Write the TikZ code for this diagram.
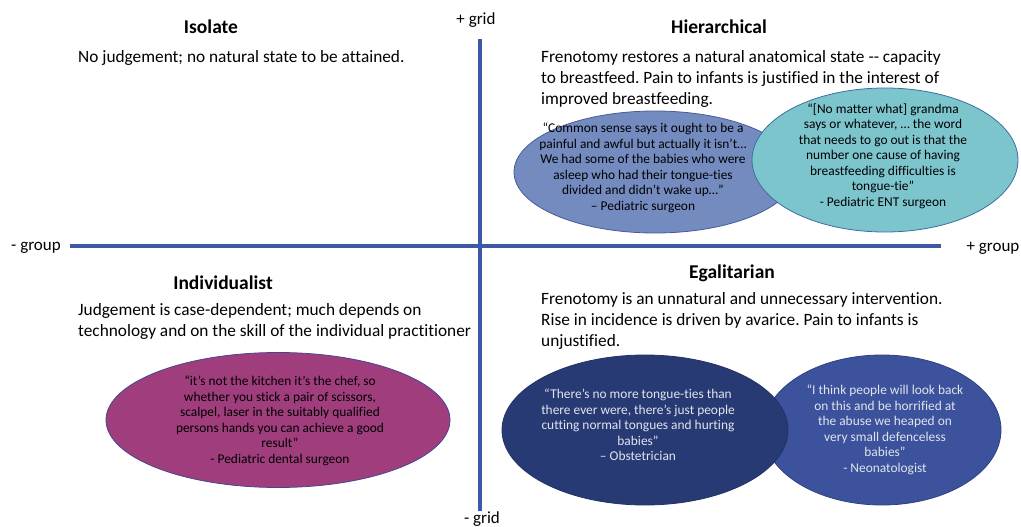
\documentclass[tikz,border=0pt]{standalone}
\usepackage{fontspec}
\setmainfont{Carlito}[Ligatures={TeX,NoCommon}]
\usetikzlibrary{shapes.geometric}
\definecolor{axisblue}{RGB}{61,88,164}
\definecolor{lav}{RGB}{116,139,192}
\definecolor{lavb}{RGB}{70,92,150}
\definecolor{teal}{RGB}{124,197,205}
\definecolor{tealb}{RGB}{60,110,160}
\definecolor{mag}{RGB}{160,62,125}
\definecolor{magb}{RGB}{70,70,140}
\definecolor{navy}{RGB}{40,58,116}
\definecolor{navyb}{RGB}{35,50,100}
\definecolor{neo}{RGB}{60,82,156}
\definecolor{neob}{RGB}{45,65,130}
\definecolor{paletext}{RGB}{225,228,236}
\frenchspacing
\begin{document}
\begin{tikzpicture}[x=1pt,y=-1pt,
  axisline/.style={draw=axisblue,line width=4pt},
  axislabel/.style={inner sep=0pt,font=\fontsize{17}{19}\selectfont},
  qtitle/.style={inner sep=0pt,anchor=base,font=\bfseries\fontsize{19.5}{22}\selectfont},
  qbody/.style={inner sep=0pt,anchor=north west,align=left,font=\fontsize{17.3}{21}\selectfont},
  bubble/.style={ellipse,inner sep=0pt,line width=0.8pt},
  quote/.style={inner sep=0pt,align=center,font=\fontsize{13.4}{15.5}\selectfont},
]
\useasboundingbox (0,0) rectangle (1021,527);
% axes
\coordinate (vt) at (480,39);
\coordinate (vb) at (480,511);
\coordinate (hl) at (70,246);
\coordinate (hr) at (941,246);
\draw[axisline] (vt) -- (vb);
\draw[axisline] (hl) -- (hr);
\node[axislabel] (pgrid) at (476,20) {+ grid};
\node[axislabel] (mgrid) at (482,519) {- grid};
\node[axislabel] (mgroup) at (36,248) {- group};
\node[axislabel] (pgroup) at (993,248) {+ group};
% titles
\node[qtitle] (tiso) at (211,34) {Isolate};
\node[qtitle] (thie) at (719,34) {Hierarchical};
\node[qtitle] (tind) at (223,289) {Individualist};
\node[qtitle] (tega) at (732,278) {Egalitarian};
% bodies
\node[qbody] (biso) at (78,50) {No judgement; no natural state to be attained.};
\node[qbody] (bhie) at (541,50) {Frenotomy restores a natural anatomical state -{}- capacity\\to breastfeed. Pain to infants is justified in the interest of\\improved breastfeeding.};
\node[qbody] (bind) at (78,303) {Judgement is case-dependent; much depends on\\technology and on the skill of the individual practitioner};
\node[qbody] (bega) at (541,292) {Frenotomy is an unnatural and unnecessary intervention.\\Rise in incidence is driven by avarice. Pain to infants is\\unjustified.};
% bubbles top right
\node[bubble,fill=lav,draw=lavb,minimum width=282pt,minimum height=122pt] (e1) at (655,172) {};
\node[quote] (q1) at (643,168) {“Common sense says it ought to be a\\painful and awful but actually it isn’t…\\We had some of the babies who were\\asleep who had their tongue-ties\\divided and didn't wake up…”\\– Pediatric surgeon};
\node[bubble,fill=teal,draw=tealb,minimum width=266pt,minimum height=144pt] (e2) at (885,160) {};
\node[quote] (q2) at (883,156) {“[No matter what] grandma\\says or whatever, … the word\\that needs to go out is that the\\number one cause of having\\breastfeeding difficulties is\\tongue-tie”\\- Pediatric ENT surgeon};
% bubble bottom left
\node[bubble,fill=mag,draw=magb,minimum width=344pt,minimum height=135pt] (e3) at (278,420) {};
\node[quote] (q3) at (280,421) {“it’s not the kitchen it’s the chef, so\\whether you stick a pair of scissors,\\scalpel, laser in the suitably qualified\\persons hands you can achieve a good\\result”\\- Pediatric dental surgeon};
% bubbles bottom right
\node[bubble,fill=neo,draw=neob,minimum width=238pt,minimum height=150pt] (e5) at (882,430) {};
\node[quote,text=paletext] (q5) at (885,430) {“I think people will look back\\on this and be horrified at\\the abuse we heaped on\\very small defenceless\\babies”\\- Neonatologist};
\node[bubble,fill=navy,draw=navyb,minimum width=286pt,minimum height=150pt] (e4) at (645,430) {};
\node[quote,text=paletext] (q4) at (638,425) {“There's no more tongue-ties than\\there ever were, there's just people\\cutting normal tongues and hurting\\babies”\\– Obstetrician};
\end{tikzpicture}
\end{document}
